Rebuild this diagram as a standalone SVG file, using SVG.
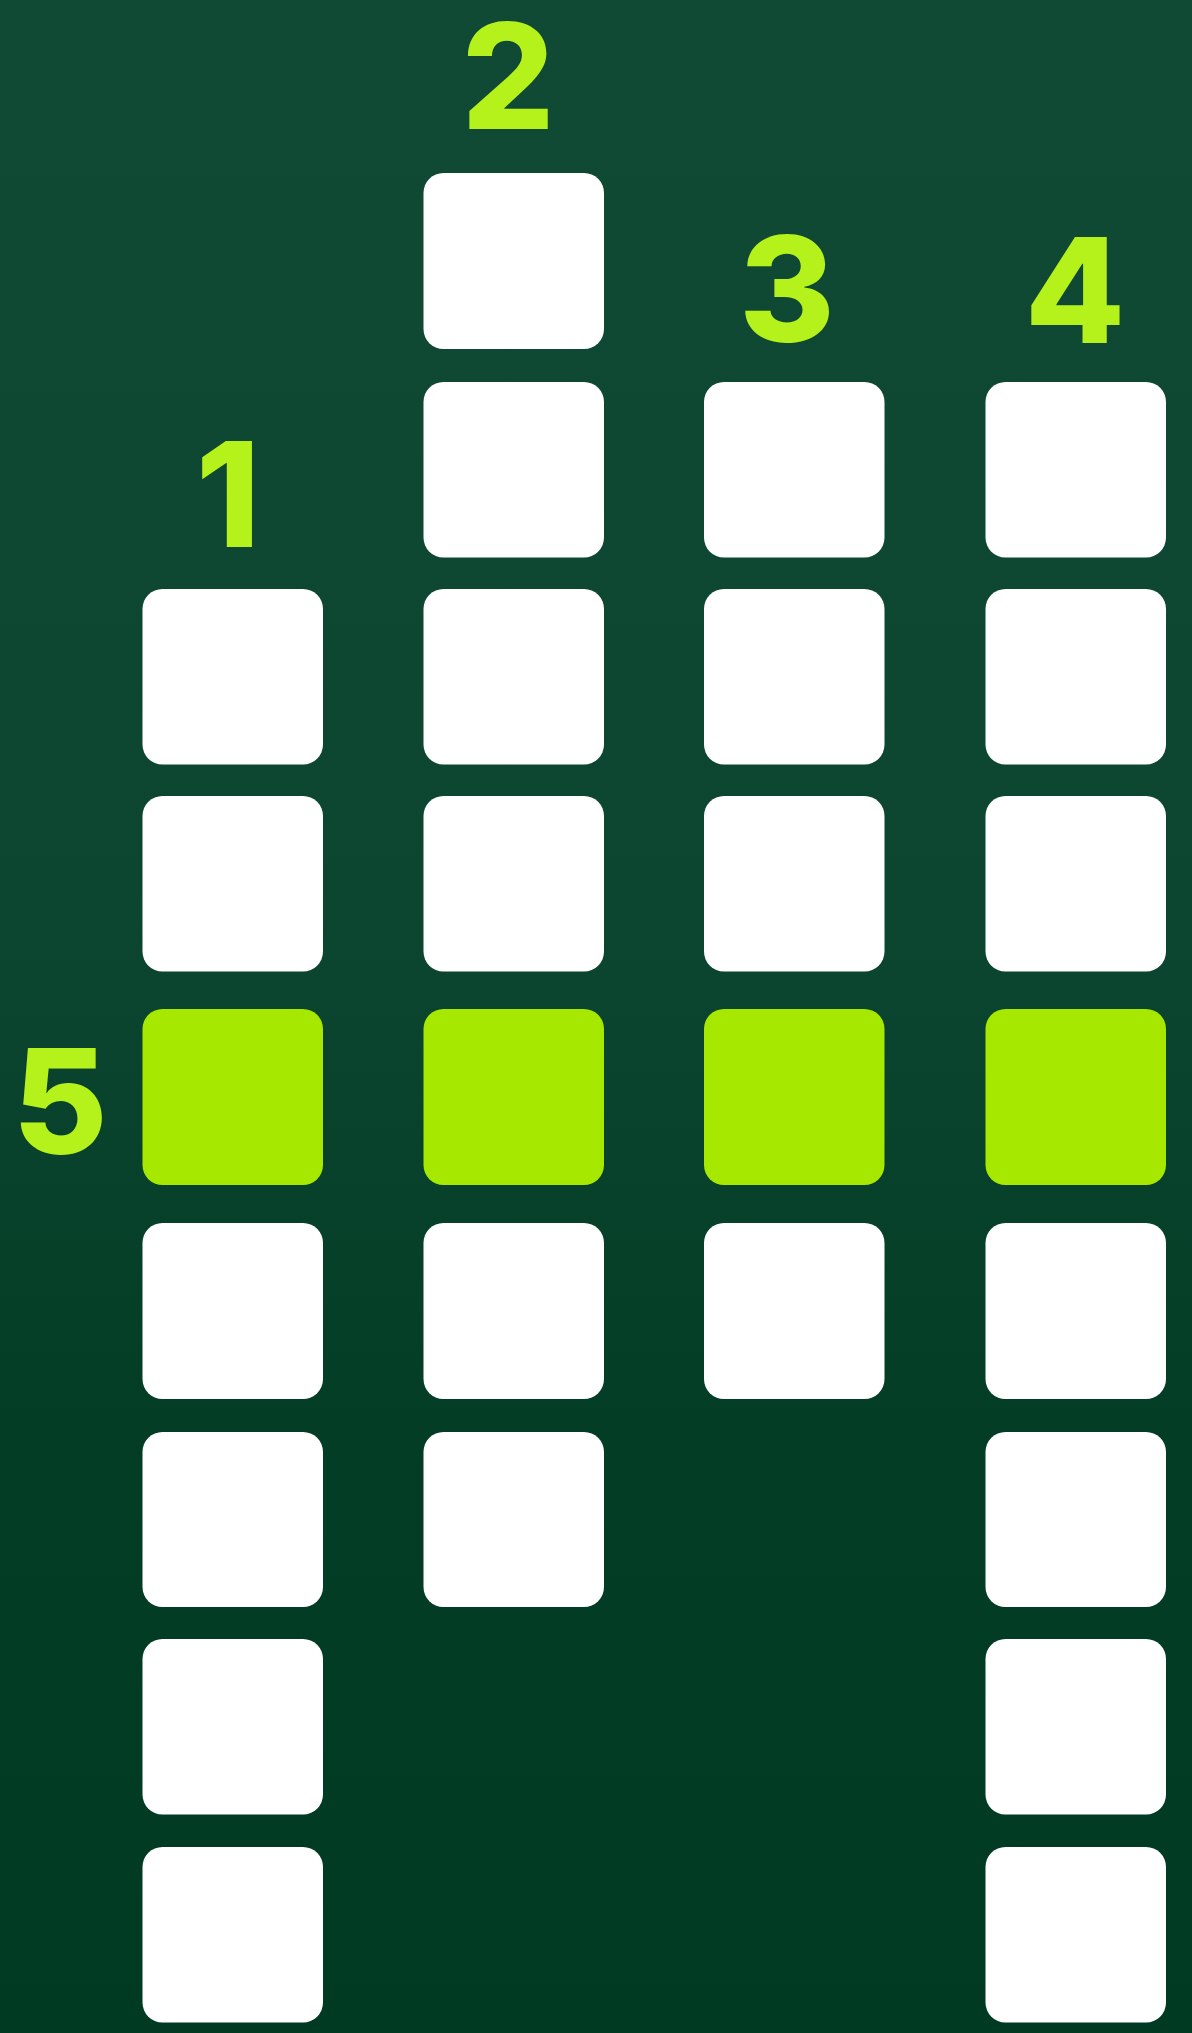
<svg xmlns="http://www.w3.org/2000/svg" width="1192" height="2033" viewBox="0 0 1192 2033">
<defs>
<linearGradient id="bg" x1="0" y1="0" x2="0" y2="1">
<stop offset="0" stop-color="#104a34"/>
<stop offset="0.45" stop-color="#0c4630"/>
<stop offset="0.7" stop-color="#033d26"/>
<stop offset="1" stop-color="#013a23"/>
</linearGradient>
</defs>
<style>
.c{fill:#ffffff}
.g{fill:#a6e800}
.n{fill:#b5f21c;font-family:Inter,"Noto Sans",sans-serif;font-weight:800;font-size:146px;text-anchor:middle}
</style>
<rect width="1192" height="2033" fill="url(#bg)"/>
<g id="labels">
<text class="n" x="228" y="547">1</text>
<text class="n" x="508" y="129">2</text>
<text class="n" x="787" y="342">3</text>
<text class="n" x="1075" y="343">4</text>
<text class="n" x="60" y="1154">5</text>
</g>
<g id="column1">
<rect class="c" x="142.5" y="589" width="180.5" height="175.5" rx="20"/>
<rect class="c" x="142.5" y="796" width="180.5" height="175.5" rx="20"/>
<rect class="g" x="142.5" y="1009" width="180.5" height="176" rx="20"/>
<rect class="c" x="142.5" y="1223" width="180.5" height="176" rx="20"/>
<rect class="c" x="142.5" y="1432" width="180.5" height="175" rx="20"/>
<rect class="c" x="142.5" y="1639" width="180.5" height="175.5" rx="20"/>
<rect class="c" x="142.5" y="1847" width="180.5" height="175.5" rx="20"/>
</g>
<g id="column2">
<rect class="c" x="423.5" y="173" width="180.5" height="176" rx="20"/>
<rect class="c" x="423.5" y="382" width="180.5" height="175.5" rx="20"/>
<rect class="c" x="423.5" y="589" width="180.5" height="175.5" rx="20"/>
<rect class="c" x="423.5" y="796" width="180.5" height="175.5" rx="20"/>
<rect class="g" x="423.5" y="1009" width="180.5" height="176" rx="20"/>
<rect class="c" x="423.5" y="1223" width="180.5" height="176" rx="20"/>
<rect class="c" x="423.5" y="1432" width="180.5" height="175" rx="20"/>
</g>
<g id="column3">
<rect class="c" x="704" y="382" width="180.5" height="175.5" rx="20"/>
<rect class="c" x="704" y="589" width="180.5" height="175.5" rx="20"/>
<rect class="c" x="704" y="796" width="180.5" height="175.5" rx="20"/>
<rect class="g" x="704" y="1009" width="180.5" height="176" rx="20"/>
<rect class="c" x="704" y="1223" width="180.5" height="176" rx="20"/>
</g>
<g id="column4">
<rect class="c" x="985.5" y="382" width="180.5" height="175.5" rx="20"/>
<rect class="c" x="985.5" y="589" width="180.5" height="175.5" rx="20"/>
<rect class="c" x="985.5" y="796" width="180.5" height="175.5" rx="20"/>
<rect class="g" x="985.5" y="1009" width="180.5" height="176" rx="20"/>
<rect class="c" x="985.5" y="1223" width="180.5" height="176" rx="20"/>
<rect class="c" x="985.5" y="1432" width="180.5" height="175" rx="20"/>
<rect class="c" x="985.5" y="1639" width="180.5" height="175.5" rx="20"/>
<rect class="c" x="985.5" y="1847" width="180.5" height="175.5" rx="20"/>
</g>
<g id="connectors"/>
</svg>
